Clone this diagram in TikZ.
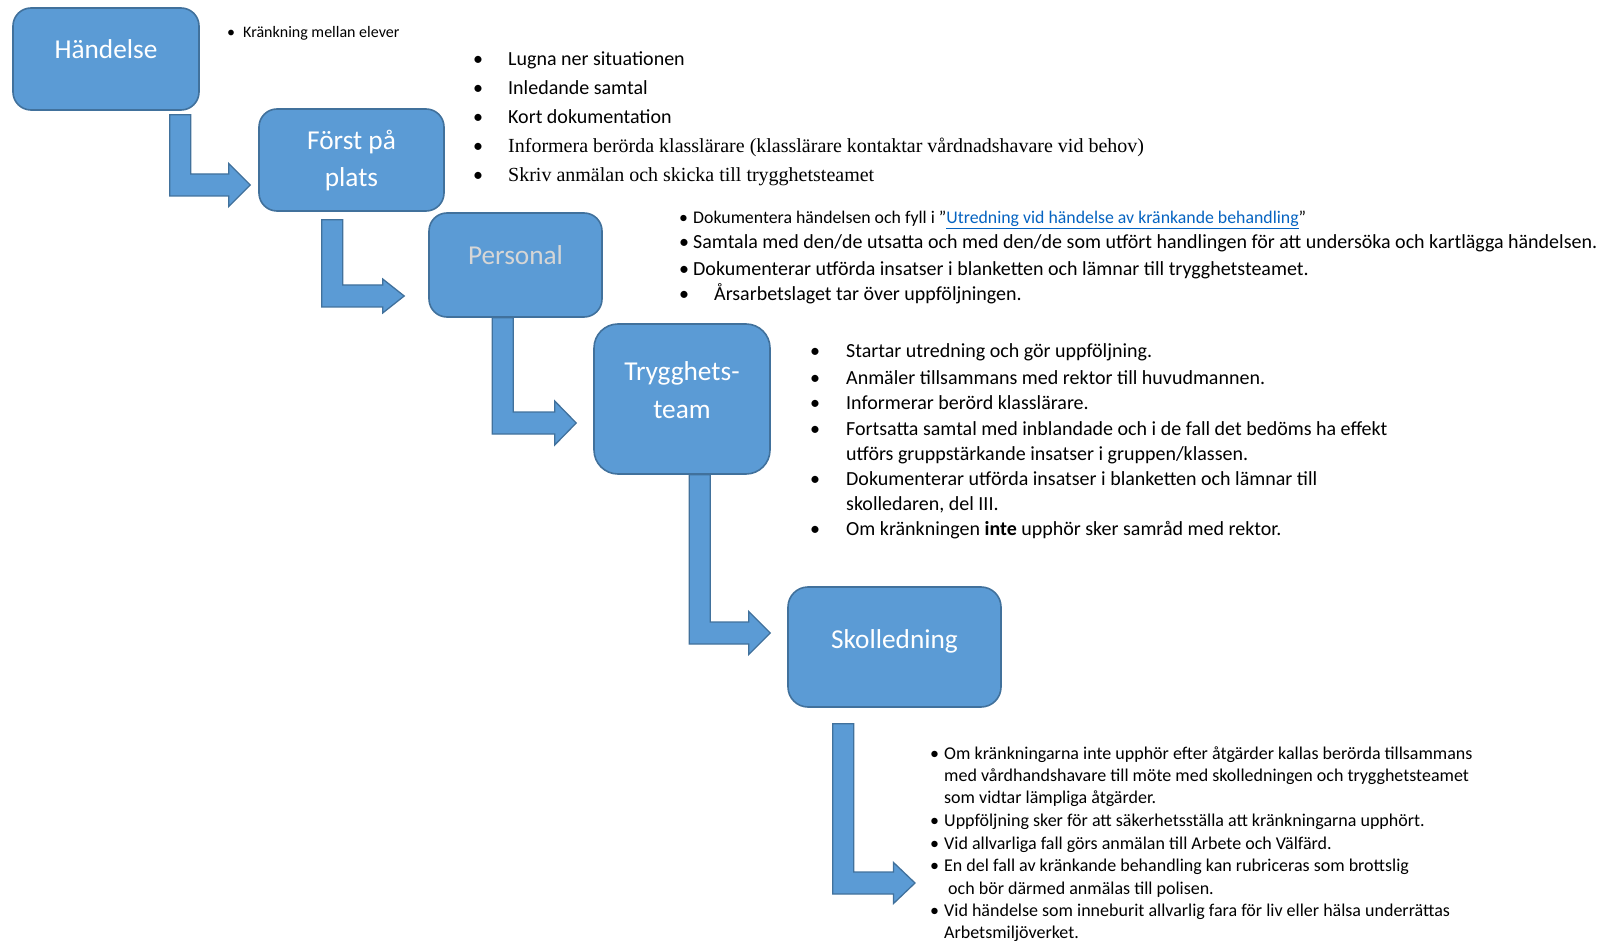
\documentclass[tikz,border=0pt]{standalone}
\usepackage{fontspec}
\setmainfont{Carlito}
\newfontfamily\timesfont{Liberation Serif}
\usetikzlibrary{calc}

\definecolor{boxfill}{HTML}{5B9BD5}
\definecolor{boxedge}{HTML}{41719C}
\definecolor{linkblue}{HTML}{0563C1}
\definecolor{greytext}{HTML}{D6D6D6}

% bullet in a box of fixed width
\newcommand{\itembul}[1]{\makebox[#1][l]{\normalfont\textbullet}}
% bent block arrow: #1 top of shaft, #2 tip, #3 half height of the head
\newcommand{\bentarrow}[3]{%
  \draw[bent_arrow] let \p1=#1, \p2=#2 in
    ({\x1-10.5pt},\y1) -- ({\x1+10.5pt},\y1) -- ({\x1+10.5pt},{\y2+11pt})
    -- ({\x2-21.5pt},{\y2+11pt}) -- ({\x2-21.5pt},{\y2+#3}) -- (\x2,\y2)
    -- ({\x2-21.5pt},{\y2-#3}) -- ({\x2-21.5pt},{\y2-11pt})
    -- ({\x1-10.5pt},{\y2-11pt}) -- cycle;}

\begin{document}
\begin{tikzpicture}[
  step_box/.style={rectangle, rounded corners=18pt, draw=boxedge, fill=boxfill, line width=1.6pt, inner sep=0pt},
  box_label/.style={anchor=base, inner sep=0pt, text=white, font=\fontsize{27.3}{33}\selectfont},
  bent_arrow/.style={draw=boxedge, fill=boxfill, line width=1.3pt, line join=miter},
  list_item/.style={anchor=base west, inner sep=0pt},
  forst_item/.style={list_item, font=\fontsize{20}{24}\selectfont},
  serif_item/.style={list_item, font=\timesfont\fontsize{20}{24}\selectfont},
  small_item/.style={list_item, font=\fontsize{16}{19}\selectfont},
  link_item/.style={list_item, font=\fontsize{17.8}{21}\selectfont},
  pers_item/.style={list_item, font=\fontsize{20}{24}\selectfont},
  team_item/.style={list_item, font=\fontsize{20}{24}\selectfont},
  skol_item/.style={list_item, font=\fontsize{18}{22}\selectfont},
]
\useasboundingbox (0,0) rectangle (1604pt,-941pt);

% boxes
\node[step_box, minimum width=186pt, minimum height=102pt] (handelse) at (106pt,-59pt) {};
\node[box_label] (handelse_txt) at (handelse.center) {Händelse};
\node[step_box, minimum width=185pt, minimum height=102pt] (forst) at (351.5pt,-160pt) {};
\node[box_label] (forst_txt1) at ([yshift=10pt]forst.center) {Först på};
\node[box_label] (forst_txt2) at ([yshift=-27pt]forst.center) {plats};
\node[step_box, minimum width=173pt, minimum height=104pt] (personal) at (515.5pt,-265pt) {};
\node[box_label, text=greytext] (personal_txt) at (personal.center) {Personal};
\node[step_box, minimum width=176pt, minimum height=150pt, rounded corners=24pt] (team) at (682pt,-399pt) {};
\node[box_label] (team_txt1) at ([yshift=18pt]team.center) {Trygghets-};
\node[box_label] (team_txt2) at ([yshift=-19pt]team.center) {team};
\node[step_box, minimum width=213pt, minimum height=120pt, rounded corners=20pt] (skol) at (894.5pt,-647pt) {};
\node[box_label] (skol_txt) at ([yshift=-1pt]skol.center) {Skolledning};

% arrows between the boxes
\coordinate (last_tip) at (915pt,-883pt);
\bentarrow{([xshift=-19.5pt,yshift=-4pt]handelse.south east)}{([xshift=-8pt,yshift=-25pt]forst.west)}{21.5pt}
\bentarrow{([xshift=74pt,yshift=-8pt]forst.south west)}{([xshift=-24pt,yshift=-31pt]personal.west)}{17pt}
\bentarrow{([xshift=74.5pt]personal.south west)}{([xshift=-17pt,yshift=-24pt]team.west)}{22pt}
\bentarrow{([xshift=106.5pt]team.south west)}{([xshift=-17pt,yshift=14pt]skol.west)}{21.5pt}
\bentarrow{([xshift=56pt,yshift=-16pt]skol.south west)}{(last_tip)}{20.5pt}

% handelse
\draw (227pt,-38pt) node (h1) [small_item] {\itembul{16pt}Kränkning mellan elever};

% forst pa plats
\draw (473pt,-66pt) node (f1) [forst_item] {\itembul{35pt}Lugna ner situationen};
\draw (473pt,-95pt) node (f2) [forst_item] {\itembul{35pt}Inledande samtal};
\draw (473pt,-124pt) node (f3) [forst_item] {\itembul{35pt}Kort dokumentation};
\draw (473pt,-153pt) node (f4) [serif_item] {\itembul{35pt}Informera berörda klasslärare (klasslärare kontaktar vårdnadshavare vid behov)};
\draw (473pt,-182pt) node (f5) [serif_item] {\itembul{35pt}Skriv anmälan och skicka till trygghetsteamet};

% personal
\draw (679pt,-224pt) node (p1) [link_item] {\itembul{14pt}Dokumentera händelsen och fyll i ”{\color{linkblue}\underline{Utredning vid händelse av kränkande behandling}}”};
\draw (679pt,-248.5pt) node (p2) [pers_item] {\itembul{14pt}Samtala med den/de utsatta och med den/de som utfört handlingen för att undersöka och kartlägga händelsen.};
\draw (679pt,-275.5pt) node (p3) [pers_item] {\itembul{14pt}Dokumenterar utförda insatser i blanketten och lämnar till trygghetsteamet.};
\draw (679pt,-300.5pt) node (p4) [pers_item] {\itembul{35pt}Årsarbetslaget tar över uppföljningen.};

% trygghetsteam
\draw (810pt,-358pt) node (t1) [team_item] {\itembul{36pt}Startar utredning och gör uppföljning.};
\draw (810pt,-384pt) node (t2) [team_item] {\itembul{36pt}Anmäler tillsammans med rektor till huvudmannen.};
\draw (810pt,-409pt) node (t3) [team_item] {\itembul{36pt}Informerar berörd klasslärare.};
\draw (810pt,-435pt) node (t4) [team_item] {\itembul{36pt}Fortsatta samtal med inblandade och i de fall det bedöms ha effekt};
\draw (846pt,-460pt) node (t4b) [team_item] {utförs gruppstärkande insatser i gruppen/klassen.};
\draw (810pt,-485pt) node (t5) [team_item] {\itembul{36pt}Dokumenterar utförda insatser i blanketten och lämnar till};
\draw (846pt,-510pt) node (t5b) [team_item] {skolledaren, del III.};
\draw (810pt,-535pt) node (t6) [team_item] {\itembul{36pt}Om kränkningen \textbf{inte} upphör sker samråd med rektor.};

% skolledning
\draw (930pt,-759pt) node (s1) [skol_item] {\itembul{14pt}Om kränkningarna inte upphör efter åtgärder kallas berörda tillsammans};
\draw (944pt,-781pt) node (s1b) [skol_item] {med vårdhandshavare till möte med skolledningen och trygghetsteamet};
\draw (944pt,-803pt) node (s1c) [skol_item] {som vidtar lämpliga åtgärder.};
\draw (930pt,-826pt) node (s2) [skol_item] {\itembul{14pt}Uppföljning sker för att säkerhetsställa att kränkningarna upphört.};
\draw (930pt,-849pt) node (s3) [skol_item] {\itembul{14pt}Vid allvarliga fall görs anmälan till Arbete och Välfärd.};
\draw (930pt,-871pt) node (s4) [skol_item] {\itembul{14pt}En del fall av kränkande behandling kan rubriceras som brottslig};
\draw (948pt,-894pt) node (s4b) [skol_item] {och bör därmed anmälas till polisen.};
\draw (930pt,-916pt) node (s5) [skol_item] {\itembul{14pt}Vid händelse som inneburit allvarlig fara för liv eller hälsa underrättas};
\draw (944pt,-938.5pt) node (s5b) [skol_item] {Arbetsmiljöverket.};
\end{tikzpicture}
\end{document}
